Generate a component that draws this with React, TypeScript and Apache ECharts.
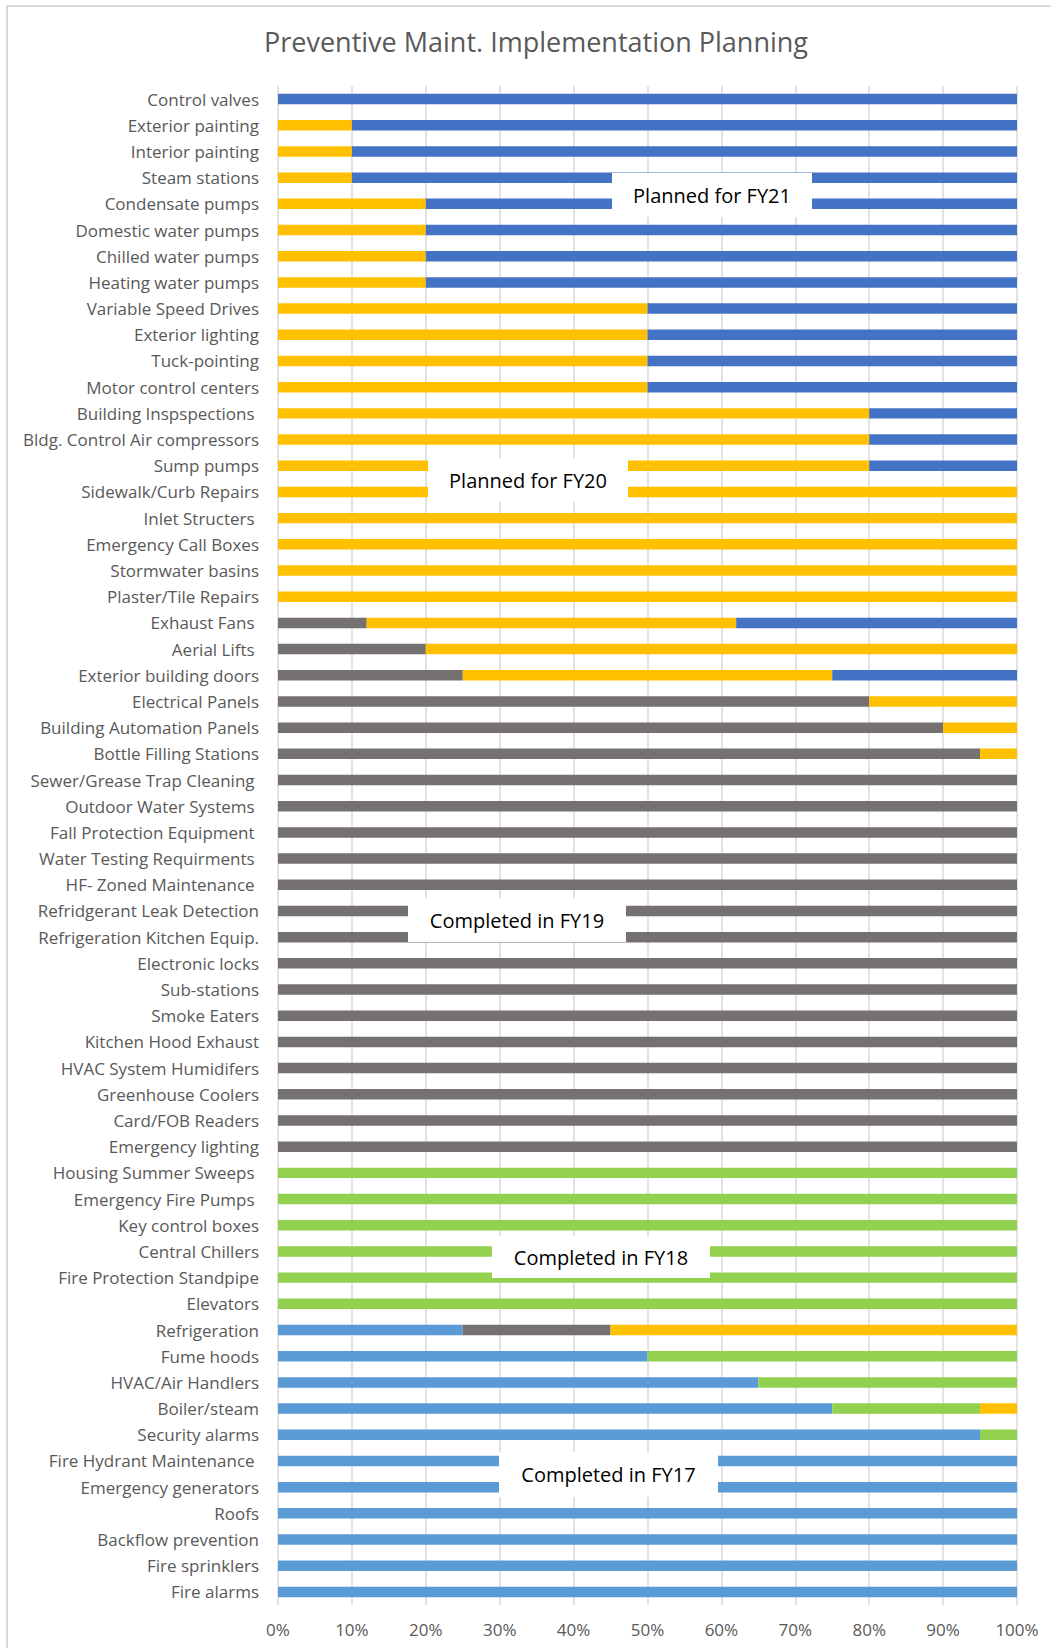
import React, { useEffect, useRef } from "react";
import * as echarts from "echarts";

const categories = [
  "Control valves",
  "Exterior painting",
  "Interior painting",
  "Steam stations",
  "Condensate pumps",
  "Domestic water pumps",
  "Chilled water pumps",
  "Heating water pumps",
  "Variable Speed Drives",
  "Exterior lighting",
  "Tuck-pointing",
  "Motor control centers",
  "Building Inspspections ",
  "Bldg. Control Air compressors",
  "Sump pumps",
  "Sidewalk/Curb Repairs",
  "Inlet Structers ",
  "Emergency Call Boxes",
  "Stormwater basins",
  "Plaster/Tile Repairs",
  "Exhaust Fans ",
  "Aerial Lifts ",
  "Exterior building doors",
  "Electrical Panels",
  "Building Automation Panels",
  "Bottle Filling Stations",
  "Sewer/Grease Trap Cleaning ",
  "Outdoor Water Systems ",
  "Fall Protection Equipment ",
  "Water Testing Requirments ",
  "HF- Zoned Maintenance ",
  "Refridgerant Leak Detection",
  "Refrigeration Kitchen Equip.",
  "Electronic locks",
  "Sub-stations",
  "Smoke Eaters",
  "Kitchen Hood Exhaust",
  "HVAC System Humidifers",
  "Greenhouse Coolers",
  "Card/FOB Readers",
  "Emergency lighting",
  "Housing Summer Sweeps ",
  "Emergency Fire Pumps ",
  "Key control boxes",
  "Central Chillers",
  "Fire Protection Standpipe",
  "Elevators",
  "Refrigeration",
  "Fume hoods",
  "HVAC/Air Handlers",
  "Boiler/steam",
  "Security alarms",
  "Fire Hydrant Maintenance ",
  "Emergency generators",
  "Roofs",
  "Backflow prevention",
  "Fire sprinklers",
  "Fire alarms",
];

// Completed in FY17
const fy17 = [
  0, 0, 0, 0, 0, 0, 0, 0, 0, 0, 0, 0, 0, 0, 0, 0, 0, 0, 0, 0,
  0, 0, 0, 0, 0, 0, 0, 0, 0, 0, 0, 0, 0, 0, 0, 0, 0, 0, 0, 0,
  0, 0, 0, 0, 0, 0, 0, 25, 50, 65, 75, 95, 100, 100, 100, 100, 100, 100,
];
// Completed in FY18
const fy18 = [
  0, 0, 0, 0, 0, 0, 0, 0, 0, 0, 0, 0, 0, 0, 0, 0, 0, 0, 0, 0,
  0, 0, 0, 0, 0, 0, 0, 0, 0, 0, 0, 0, 0, 0, 0, 0, 0, 0, 0, 0,
  0, 100, 100, 100, 100, 100, 100, 0, 50, 35, 20, 5, 0, 0, 0, 0, 0, 0,
];
// Completed in FY19
const fy19 = [
  0, 0, 0, 0, 0, 0, 0, 0, 0, 0, 0, 0, 0, 0, 0, 0, 0, 0, 0, 0,
  12, 20, 25, 80, 90, 95, 100, 100, 100, 100, 100, 100, 100, 100, 100, 100, 100, 100, 100, 100,
  100, 0, 0, 0, 0, 0, 0, 20, 0, 0, 0, 0, 0, 0, 0, 0, 0, 0,
];
// Planned for FY20
const fy20 = [
  0, 10, 10, 10, 20, 20, 20, 20, 50, 50, 50, 50, 80, 80, 80, 100, 100, 100, 100, 100,
  50, 80, 50, 20, 10, 5, 0, 0, 0, 0, 0, 0, 0, 0, 0, 0, 0, 0, 0, 0,
  0, 0, 0, 0, 0, 0, 0, 55, 0, 0, 5, 0, 0, 0, 0, 0, 0, 0,
];
// Planned for FY21
const fy21 = [
  100, 90, 90, 90, 80, 80, 80, 80, 50, 50, 50, 50, 20, 20, 20, 0, 0, 0, 0, 0,
  38, 0, 25, 0, 0, 0, 0, 0, 0, 0, 0, 0, 0, 0, 0, 0, 0, 0, 0, 0,
  0, 0, 0, 0, 0, 0, 0, 0, 0, 0, 0, 0, 0, 0, 0, 0, 0, 0,
];

const seriesNames = ["FY17", "FY18", "FY19", "FY20", "FY21"];
const seriesColors = ["#5B9BD5", "#92D050", "#767171", "#FFC000", "#4472C4"];
const xTicks = [0, 10, 20, 30, 40, 50, 60, 70, 80, 90, 100];

const titleText = "Preventive Maint. Implementation Planning";

const FONT = "'Open Sans', 'Noto Sans', sans-serif";

const annotations = [
  { text: "Planned for FY21", x: 612, y: 173, w: 200, h: 44 },
  { text: "Planned for FY20", x: 428, y: 458, w: 200, h: 44 },
  { text: "Completed in FY19", x: 408, y: 898, w: 218, h: 44 },
  { text: "Completed in FY18", x: 492, y: 1236, w: 218, h: 42 },
  { text: "Completed in FY17", x: 499, y: 1452, w: 219, h: 45 },
];

export default function App() {
  const ref = useRef<HTMLDivElement>(null);

  useEffect(() => {
    if (!ref.current) return;
    const chart = echarts.init(ref.current, null, { renderer: "svg" });
    const dataSets = [fy17, fy18, fy19, fy20, fy21];

    const graphics: any[] = [
      {
        type: "rect",
        z: 0,
        shape: { x: 7, y: 6, width: 1200, height: 1800 },
        style: { fill: "none", stroke: "#D9D9D9", lineWidth: 2 },
        silent: true,
      },
      {
        type: "text",
        z: 100,
        x: 536,
        y: 41,
        style: {
          text: titleText,
          fill: "#595959",
          font: `27px ${FONT}`,
          textAlign: "center",
          textVerticalAlign: "middle",
          align: "center",
          verticalAlign: "middle",
        },
      },
    ];
    annotations.forEach((a) => {
      graphics.push({
        type: "rect",
        z: 100,
        shape: { x: a.x, y: a.y, width: a.w, height: a.h },
        style: { fill: "#FFFFFF" },
      });
      graphics.push({
        type: "text",
        z: 101,
        x: a.x + a.w / 2,
        y: a.y + a.h / 2,
        style: {
          text: a.text,
          fill: "#000000",
          font: `20px ${FONT}`,
          textAlign: "center",
          textVerticalAlign: "middle",
          align: "center",
          verticalAlign: "middle",
        },
      });
    });

    chart.setOption({
      animation: false,
      backgroundColor: "#FFFFFF",
      grid: { left: 278, right: 34, top: 86, bottom: 43, containLabel: false },
      xAxis: {
        type: "value",
        min: 0,
        max: 100,
        interval: 10,
        axisLine: { show: false },
        axisTick: { show: false },
        splitLine: { show: true, lineStyle: { color: "#D9D9D9", width: 1.5 } },
        axisLabel: {
          formatter: (v: number) => (xTicks.includes(v) ? `${v}%` : ""),
          color: "#595959",
          fontFamily: FONT,
          fontSize: 17,
          margin: 16,
        },
      },
      yAxis: {
        type: "category",
        inverse: true,
        data: categories,
        axisLine: { show: false },
        axisTick: { show: false },
        splitLine: { show: false },
        axisLabel: {
          color: "#595959",
          fontFamily: FONT,
          fontSize: 17,
          margin: 19,
          interval: 0,
        },
      },
      series: seriesNames.map((name, i) => ({
        name,
        type: "bar",
        stack: "total",
        barWidth: "40%",
        data: dataSets[i],
        itemStyle: { color: seriesColors[i] },
      })),
      graphic: graphics,
    });

    return () => chart.dispose();
  }, []);

  return (
    <div
      ref={ref}
      style={{ position: "absolute", left: 0, top: 0, width: 1051, height: 1648 }}
    />
  );
}
